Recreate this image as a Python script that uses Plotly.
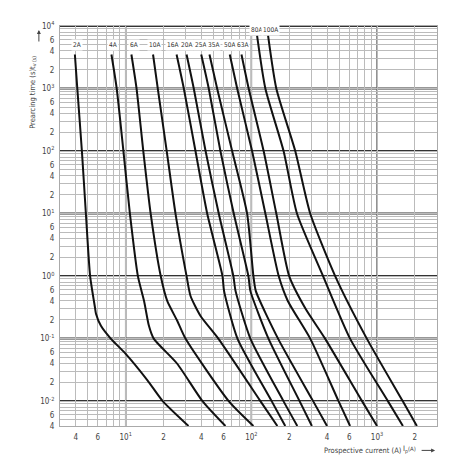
import plotly.graph_objects as go
import math

# ---- data (current in A, prearcing time in s) ----
ratings = ["2A", "4A", "6A", "10A", "16A", "20A", "25A", "35A", "50A", "63A", "80A", "100A"]

t_2A = [3500, 1000, 100, 10, 1, 0.31, 0.25, 0.16, 0.1, 0.057, 0.0215, 0.01, 0.004]
i_2A = [3.94, 4.12, 4.48, 4.82, 5.21, 5.7, 5.8, 6.35, 7.6, 10.0, 14.9, 19.7, 31.6]

t_4A = [3500, 1000, 100, 10, 1, 0.4, 0.16, 0.1, 0.0396, 0.01, 0.004]
i_4A = [7.7, 8.48, 9.59, 10.8, 12.5, 14.0, 15.3, 16.7, 25.7, 40.8, 62.2]

t_6A = [3500, 1000, 100, 10, 1, 0.4, 0.193, 0.1, 0.01, 0.004]
i_6A = [11.1, 12.2, 13.8, 15.8, 19.0, 21.4, 25.7, 29.9, 66.0, 103.8]

t_10A = [3500, 1000, 100, 10, 1, 0.48, 0.23, 0.1, 0.01, 0.004]
i_10A = [16.5, 18.0, 21.2, 24.9, 30.5, 32.8, 39.4, 54.6, 118, 161]

t_16A = [3500, 1000, 100, 10, 1, 0.58, 0.1, 0.01, 0.004]
i_16A = [25.4, 29.0, 35.9, 44.5, 58.9, 60.6, 77.5, 145, 186]

t_20A = [3500, 1000, 100, 10, 1, 0.58, 0.1, 0.01, 0.004]
i_20A = [30.5, 34.8, 43.2, 55.0, 71.9, 74.8, 98.2, 180, 232]

t_25A = [3500, 1000, 100, 10, 1, 0.58, 0.1, 0.01, 0.004]
i_25A = [39.9, 45.8, 56.7, 72.4, 94.7, 98.2, 136.8, 242, 303]

t_35A = [3500, 1000, 100, 10, 1, 0.58, 0.1, 0.01, 0.004]
i_35A = [46.4, 53.4, 70.3, 92.5, 103.8, 108.4, 163, 310, 400]

t_50A = [3500, 1000, 100, 10, 1, 0.4, 0.1, 0.01, 0.004]
i_50A = [67.3, 77.1, 101.3, 129.2, 165, 195, 294, 494, 610]

t_63A = [3500, 1000, 100, 10, 1, 0.3, 0.1, 0.01, 0.004]
i_63A = [83.4, 95.2, 125.2, 157.9, 200, 270, 386, 760, 1000]

t_80A = [7000, 1000, 100, 10, 1, 0.1, 0.01, 0.004]
i_80A = [111, 129.2, 180.4, 230.6, 372, 610, 1220, 1607]

t_100A = [7000, 1000, 100, 10, 1, 0.1, 0.01, 0.004]
i_100A = [135.8, 157.9, 223.4, 293.9, 464.5, 829, 1600, 2075]

label_time_low = 5000     # labels 2A ... 63A sit on this grid line
label_time_high = 8700    # labels 80A, 100A
label_shift_px = [2, 2, 3, 1, -4, 0, -1, 4, 0, 1, -1, 2]   # label offsets from curve tops

x_tick_vals = [4, 6, 10, 20, 40, 60, 100, 200, 400, 600, 1000, 2000]
x_tick_text = ["4", "6", "10<sup>1</sup>", "2", "4", "6", "10<sup>2</sup>", "2", "4", "6", "10<sup>3</sup>", "2"]

x_min, x_max = 3, 3000
y_min, y_max = 0.004, 10000

curves_i = [i_2A, i_4A, i_6A, i_10A, i_16A, i_20A, i_25A, i_35A, i_50A, i_63A, i_80A, i_100A]
curves_t = [t_2A, t_4A, t_6A, t_10A, t_16A, t_20A, t_25A, t_35A, t_50A, t_63A, t_80A, t_100A]

# ---- build axis tick sets ----
def sup(e):
    return "10<sup>%d</sup>" % e

y_tick_vals, y_tick_text = [], []
for d in range(-3, 5):
    for k in (1, 2, 4, 6):
        v = k * 10.0 ** d
        if y_min * 0.999 <= v <= y_max * 1.001:
            y_tick_vals.append(v)
            y_tick_text.append(sup(d) if k == 1 else str(k))

def minor_vals(lo, hi):
    out = []
    for d in range(-4, 5):
        for k in range(1, 10):
            v = k * 10.0 ** d
            if lo * 0.999 <= v <= hi * 1.001:
                out.append(v)
    return out

font_family = "Liberation Sans Narrow, Arial Narrow, DejaVu Sans Condensed, sans-serif"
txt = "#444444"

fig = go.Figure()

for name, xs, ts in zip(ratings, curves_i, curves_t):
    fig.add_trace(go.Scatter(
        x=xs, y=ts, mode="lines", name=name,
        line=dict(color="#111111", width=2, shape="spline", smoothing=0.6),
        showlegend=False, hoverinfo="skip"))

# decade grid lines (heavier) drawn between grid and traces
for d in range(-2, 5):
    fig.add_shape(type="line", xref="paper", x0=0, x1=1, yref="y", y0=10.0 ** d, y1=10.0 ** d,
                  line=dict(color="#333333", width=2), layer="between")
for d in range(1, 4):
    fig.add_shape(type="line", yref="paper", y0=0, y1=1, xref="x", x0=10.0 ** d, x1=10.0 ** d,
                  line=dict(color="#666666", width=1.5), layer="between")

# fuse labels
for name, xs, sh in zip(ratings, curves_i, label_shift_px):
    high = name in ("80A", "100A")
    fig.add_annotation(x=math.log10(xs[0]), y=math.log10(label_time_high if high else label_time_low),
                       xref="x", yref="y", text=name, showarrow=False, xshift=sh,
                       font=dict(size=6.5, color="#333333", family=font_family),
                       bgcolor="white", borderpad=1)

# axis titles and arrows
fig.add_annotation(xref="paper", yref="paper", x=-0.072, y=0.835, xanchor="center", yanchor="middle",
                   textangle=-90, text="Prearcing time (s)t<sub>v (s)</sub>", showarrow=False,
                   font=dict(size=7.5, color=txt, family=font_family))
fig.add_annotation(xref="paper", yref="paper", x=-0.056, y=0.99, ax=0, ay=13, text="",
                   showarrow=True, arrowhead=2, arrowsize=0.8, arrowwidth=1, arrowcolor=txt)
fig.add_annotation(xref="paper", yref="paper", x=0.695, y=-0.061, xanchor="left", yanchor="middle",
                   text="Prospective current (A)", showarrow=False,
                   font=dict(size=7.5, color=txt, family=font_family))
fig.add_annotation(xref="paper", yref="paper", x=0.905, y=-0.059, xanchor="left", yanchor="middle",
                   text="I<sub>p</sub><span style='font-size:6px'>(A)</span>", showarrow=False,
                   font=dict(size=7.5, color=txt, family=font_family))
fig.add_annotation(xref="paper", yref="paper", x=0.995, y=-0.061, ax=-15, ay=0, text="",
                   showarrow=True, arrowhead=2, arrowsize=0.8, arrowwidth=1, arrowcolor=txt)

fig.update_xaxes(type="log", range=[math.log10(x_min), math.log10(x_max)],
                 tickvals=x_tick_vals, ticktext=x_tick_text, ticks="", showgrid=False,
                 zeroline=False, showline=True, linecolor="#aaaaaa", linewidth=1, mirror=True,
                 tickfont=dict(size=8, color=txt, family=font_family), ticklabelstandoff=3,
                 minor=dict(tickvals=minor_vals(x_min, x_max), showgrid=True,
                            gridcolor="#bbbbbb", gridwidth=1, ticks=""))
fig.update_yaxes(type="log", range=[math.log10(y_min), math.log10(y_max)],
                 tickvals=y_tick_vals, ticktext=y_tick_text, ticks="", showgrid=False,
                 zeroline=False, showline=True, linecolor="#aaaaaa", linewidth=1, mirror=True,
                 tickfont=dict(size=8, color=txt, family=font_family), ticklabelstandoff=3,
                 minor=dict(tickvals=minor_vals(y_min, y_max), showgrid=True,
                            gridcolor="#bbbbbb", gridwidth=1, ticks=""))

fig.update_layout(width=462, height=462, margin=dict(l=52, r=33, t=15, b=44),
                  paper_bgcolor="white", plot_bgcolor="white", showlegend=False)

fig.write_html("out.html")
